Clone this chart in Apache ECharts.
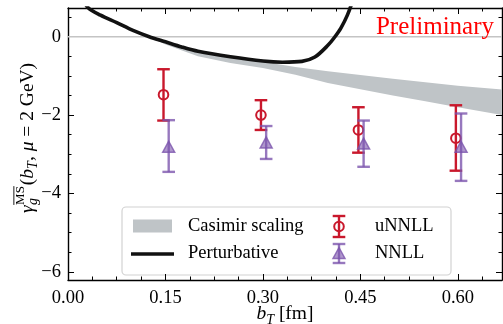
<!DOCTYPE html>
<html><head><meta charset="utf-8">
<script src="https://cdn.jsdelivr.net/npm/echarts@6/dist/echarts.min.js"></script>
<style>html,body{margin:0;padding:0;background:#fff}#c{width:503px;height:324px}</style>
</head><body><div id="c"></div>
<script>
// ---- data ----
const xTicks = [0, 0.15, 0.30, 0.45, 0.60];
const xMinorTicks = [0.0375, 0.075, 0.1125, 0.1875, 0.225, 0.2625, 0.3375, 0.375, 0.4125, 0.4875, 0.525, 0.5625, 0.6375];
const yTicks = [-6, -4, -2, 0];
const yMinorTicks = [-6, -5.5, -5, -4.5, -4, -3.5, -3, -2.5, -2, -1.5, -1, -0.5, 0, 0.5];
const uNNLL_x = [0.147, 0.297, 0.447, 0.597];
const uNNLL_val = [-1.48, -2.00, -2.38, -2.59];
const uNNLL_lo = [-2.14, -2.38, -2.96, -3.42];
const uNNLL_hi = [-0.83, -1.62, -1.80, -1.75];
const NNLL_x = [0.155, 0.305, 0.455, 0.605];
const NNLL_val = [-2.82, -2.71, -2.74, -2.82];
const NNLL_lo = [-3.45, -3.12, -3.32, -3.68];
const NNLL_hi = [-2.13, -2.28, -2.14, -1.96];
const casimir_x = [0.13, 0.15, 0.2, 0.25, 0.3, 0.35, 0.4, 0.45, 0.5, 0.55, 0.6, 0.668];
const casimir_upper = [-0.03, -0.12, -0.36, -0.52, -0.64, -0.77, -0.88, -0.98, -1.07, -1.16, -1.25, -1.35];
const casimir_lower = [-0.04, -0.2, -0.5, -0.67, -0.8, -0.97, -1.18, -1.34, -1.5, -1.65, -1.8, -2.0];
const pert_x = [0.02, 0.031, 0.05, 0.075, 0.10, 0.125, 0.15, 0.175, 0.20, 0.25, 0.30, 0.33, 0.36, 0.38, 0.40, 0.41, 0.42, 0.43, 0.44];
const pert_y = [1.05, 0.74, 0.55, 0.36, 0.16, 0.0, -0.13, -0.26, -0.37, -0.51, -0.62, -0.65, -0.63, -0.52, -0.22, -0.02, 0.22, 0.55, 1.0];
const X_MIN = 0, X_MAX = 0.668, Y_MIN = -6.21, Y_MAX = 0.733;

// ---- style ----
const FAM = '"Liberation Serif", "DejaVu Serif", serif';
const RED = '#c9182c';
const PURPLE = 'rgba(122,82,172,0.78)';
const PURPLE_FILL = 'rgba(122,82,172,0.6)';
const BAND = '#bfc4c7';
const FS = 18.5;

const chart = echarts.init(document.getElementById('c'), null, {renderer: 'canvas'});

function xAxisDef(pos, ticks, len, labels, line) {
  return {
    type: 'value', position: pos, min: X_MIN, max: X_MAX,
    axisLine: {show: line, onZero: false, lineStyle: {color: '#000', width: 1.4}},
    axisTick: {show: true, inside: true, length: len, customValues: ticks, lineStyle: {color: '#000', width: 1}},
    axisLabel: {show: labels, customValues: ticks, margin: 9, color: '#000', fontFamily: FAM, fontSize: FS,
      formatter: v => v.toFixed(2)},
    splitLine: {show: false}
  };
}
function yAxisDef(pos, ticks, len, labels, line) {
  return {
    type: 'value', position: pos, min: Y_MIN, max: Y_MAX,
    axisLine: {show: line, onZero: false, lineStyle: {color: '#000', width: 1.4}},
    axisTick: {show: true, inside: true, length: len, customValues: ticks, lineStyle: {color: '#000', width: 1}},
    axisLabel: {show: labels, customValues: ticks, margin: 7, color: '#000', fontFamily: FAM, fontSize: FS,
      formatter: v => (v < 0 ? '\u2212' + Math.abs(v) : String(v))},
    splitLine: {show: false}
  };
}

function errRender(xs, vals, los, his, color, marker, fill) {
  return function (params, api) {
    const i = params.dataIndex;
    const c = api.coord([xs[i], vals[i]]);
    const lo = api.coord([xs[i], los[i]]);
    const hi = api.coord([xs[i], his[i]]);
    const cw = 6.3;
    const st = {stroke: color, lineWidth: 2.4, fill: null};
    const ch = [
      {type: 'line', shape: {x1: c[0], y1: lo[1], x2: c[0], y2: hi[1]}, style: st},
      {type: 'line', shape: {x1: c[0] - cw, y1: lo[1], x2: c[0] + cw, y2: lo[1]}, style: st},
      {type: 'line', shape: {x1: c[0] - cw, y1: hi[1], x2: c[0] + cw, y2: hi[1]}, style: st}
    ];
    if (marker === 'circle') {
      ch.push({type: 'circle', shape: {cx: c[0], cy: c[1], r: 4.8}, style: {stroke: color, lineWidth: 2, fill: null}});
    } else {
      ch.push({type: 'polygon', shape: {points: [[c[0], c[1] - 6], [c[0] - 6, c[1] + 5], [c[0] + 6, c[1] + 5]]},
        style: {fill: fill, stroke: color, lineWidth: 1.5}});
    }
    return {type: 'group', children: ch};
  };
}

// text measuring for math labels
const mctx = document.createElement('canvas').getContext('2d');
function tw(font, s) { mctx.font = font; return mctx.measureText(s).width; }
function f(sz, it) { return (it ? 'italic ' : '') + sz + 'px ' + FAM; }
function txt(s, x, baseline, font, sz, color) {
  return {type: 'text', x: 0, y: 0, style: {text: s, x: x, y: baseline - 0.3 * sz, font: font, fill: color || '#000',
    align: 'left', verticalAlign: 'middle', textAlign: 'left', textVerticalAlign: 'middle'}};
}

// y-axis label: gamma_g^{MS-bar}(b_T, mu = 2 GeV)
function yLabel() {
  const M = 19.5, S = 14, P = 13;
  const els = [];
  let x = 0;
  els.push(txt('\u03b3', x, 0, f(M, true), M)); x += tw(f(M, true), '\u03b3') + 0.5;
  const wsub = tw(f(S, true), 'g'), wsup = tw(f(P, false), 'MS');
  els.push(txt('g', x, 4.5, f(S, true), S));
  els.push(txt('MS', x, -9, f(P, false), P));
  els.push({type: 'line', shape: {x1: x, y1: -9 - 0.68 * P - 1.8, x2: x + wsup, y2: -9 - 0.68 * P - 1.8}, style: {stroke: '#000', lineWidth: 0.9}});
  x += Math.max(wsub, wsup) + 1;
  els.push(txt('(', x, 0, f(M, false), M)); x += tw(f(M, false), '(');
  els.push(txt('b', x, 0, f(M, true), M)); x += tw(f(M, true), 'b');
  els.push(txt('T', x, 4.5, f(S, true), S)); x += tw(f(S, true), 'T');
  els.push(txt(', ', x, 0, f(M, false), M)); x += tw(f(M, false), ', ');
  els.push(txt('\u03bc', x, 0, f(M, true), M)); x += tw(f(M, true), '\u03bc');
  els.push(txt(' = 2 GeV)', x, 0, f(M, false), M)); x += tw(f(M, false), ' = 2 GeV)');
  return {type: 'group', x: 33.5, y: 138 + x / 2, rotation: Math.PI / 2, children: els};
}
function xLabel() {
  const M = 19.5, S = 14;
  const els = [];
  let x = 0;
  els.push(txt('b', x, 0, f(M, true), M)); x += tw(f(M, true), 'b');
  els.push(txt('T', x, 4.5, f(S, true), S)); x += tw(f(S, true), 'T');
  els.push(txt(' [fm]', x, 0, f(M, false), M)); x += tw(f(M, false), ' [fm]');
  return {type: 'group', x: 285 - x / 2, y: 320, children: els};
}
function legend() {
  const L = 18.5;
  return {type: 'group', z: 100, children: [
    {type: 'rect', shape: {x: 122, y: 207, width: 329, height: 68, r: 4}, style: {fill: 'rgba(255,255,255,0.85)', stroke: '#d2d2d2', lineWidth: 1.2}},
    {type: 'rect', shape: {x: 133, y: 219.5, width: 39, height: 13}, style: {fill: BAND}},
    txt('Casimir scaling', 188, 232, f(L, false), L),
    {type: 'line', shape: {x1: 131, y1: 254, x2: 174, y2: 254}, style: {stroke: '#111', lineWidth: 3.6}},
    txt('Perturbative', 188, 259, f(L, false), L),
    // uNNLL icon
    {type: 'line', shape: {x1: 339, y1: 216, x2: 339, y2: 237}, style: {stroke: RED, lineWidth: 2.4}},
    {type: 'line', shape: {x1: 332.7, y1: 216, x2: 345.3, y2: 216}, style: {stroke: RED, lineWidth: 2.4}},
    {type: 'line', shape: {x1: 332.7, y1: 237, x2: 345.3, y2: 237}, style: {stroke: RED, lineWidth: 2.4}},
    {type: 'circle', shape: {cx: 339, cy: 226.5, r: 4.8}, style: {stroke: RED, lineWidth: 2, fill: null}},
    txt('uNNLL', 375, 232, f(L, false), L),
    // NNLL icon
    {type: 'line', shape: {x1: 339, y1: 244, x2: 339, y2: 263}, style: {stroke: PURPLE, lineWidth: 2.4}},
    {type: 'line', shape: {x1: 332.7, y1: 244, x2: 345.3, y2: 244}, style: {stroke: PURPLE, lineWidth: 2.4}},
    {type: 'line', shape: {x1: 332.7, y1: 263, x2: 345.3, y2: 263}, style: {stroke: PURPLE, lineWidth: 2.4}},
    {type: 'polygon', shape: {points: [[339, 247.5], [333, 258.5], [345, 258.5]]}, style: {fill: PURPLE_FILL, stroke: PURPLE, lineWidth: 1.5}},
    txt('NNLL', 375, 259, f(L, false), L)
  ]};
}

const option = {
  animation: false,
  backgroundColor: '#fff',
  grid: {left: 68, right: 1, top: 8, bottom: 44, containLabel: false, outerBoundsMode: 'none'},
  xAxis: [
    xAxisDef('bottom', xTicks, 6, true, true),
    xAxisDef('bottom', xMinorTicks, 3.5, false, false),
    xAxisDef('top', xTicks, 6, false, true),
    xAxisDef('top', xMinorTicks, 3.5, false, false)
  ],
  yAxis: [
    yAxisDef('left', yTicks, 6, true, true),
    yAxisDef('left', yMinorTicks, 3.5, false, false),
    yAxisDef('right', yTicks, 6, false, true),
    yAxisDef('right', yMinorTicks, 3.5, false, false)
  ],
  series: [
    {name: 'zero', type: 'line', data: [[X_MIN, 0], [X_MAX, 0]], showSymbol: false, silent: true, z: 1,
      lineStyle: {color: '#c4c4c4', width: 1.5}},
    {name: 'Casimir scaling', type: 'custom', z: 2, clip: true,
      data: casimir_x.map((x, i) => [x, casimir_lower[i], casimir_upper[i]]),
      encode: {x: 0, y: [1, 2]},
      renderItem: function (params, api) {
        if (params.dataIndex !== 0) return null;
        const pts = [];
        for (let i = 0; i < casimir_x.length; i++) pts.push(api.coord([casimir_x[i], casimir_upper[i]]));
        for (let i = casimir_x.length - 1; i >= 0; i--) pts.push(api.coord([casimir_x[i], casimir_lower[i]]));
        return {type: 'polygon', shape: {points: pts, smooth: 0}, style: {fill: BAND, stroke: null}};
      }},
    {name: 'Perturbative', type: 'line', z: 3, data: pert_x.map((x, i) => [x, pert_y[i]]),
      showSymbol: false, smooth: 0.3, clip: true, lineStyle: {color: '#111', width: 3.6}},
    {name: 'uNNLL', type: 'custom', z: 4, clip: false,
      data: uNNLL_x.map((x, i) => [x, uNNLL_val[i], uNNLL_lo[i], uNNLL_hi[i]]),
      encode: {x: 0, y: [1, 2, 3]},
      renderItem: errRender(uNNLL_x, uNNLL_val, uNNLL_lo, uNNLL_hi, RED, 'circle')},
    {name: 'NNLL', type: 'custom', z: 5, clip: false,
      data: NNLL_x.map((x, i) => [x, NNLL_val[i], NNLL_lo[i], NNLL_hi[i]]),
      encode: {x: 0, y: [1, 2, 3]},
      renderItem: errRender(NNLL_x, NNLL_val, NNLL_lo, NNLL_hi, PURPLE, 'triangle', PURPLE_FILL)}
  ],
  graphic: [
    yLabel(), xLabel(), legend(),
    {type: 'text', z: 100, style: {text: 'Preliminary', x: 494, y: 27, font: '25px ' + FAM, fill: '#ff0000',
      align: 'right', verticalAlign: 'middle', textAlign: 'right', textVerticalAlign: 'middle'}}
  ]
};
chart.setOption(option);
</script>
</body></html>
